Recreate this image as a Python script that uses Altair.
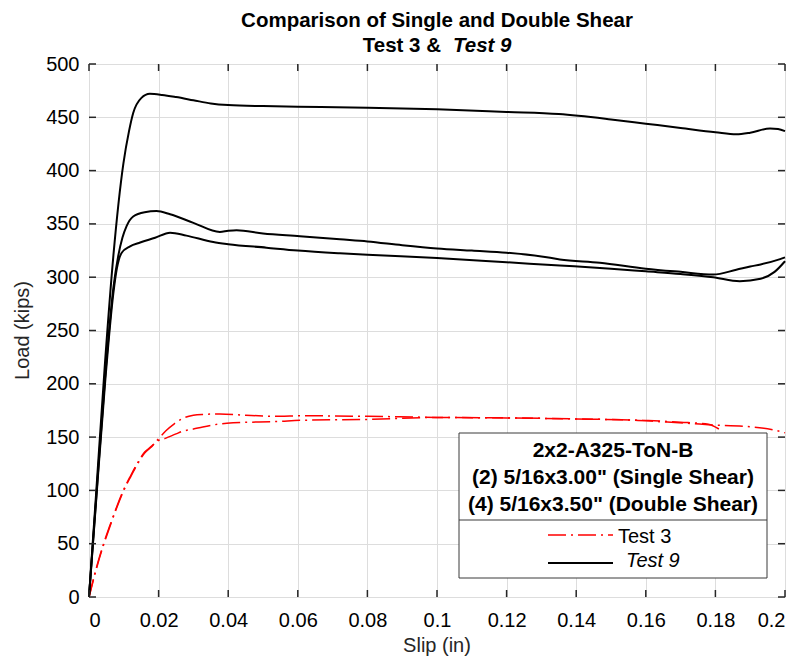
import altair as alt
import pandas as pd

# ---- data ----
# Test 9 (double shear) - three black curves
t9a_slip = [0, 0.002, 0.0046, 0.007, 0.0099, 0.0115, 0.0127, 0.015, 0.0175, 0.021, 0.025, 0.03, 0.035, 0.04,
            0.05, 0.06, 0.08, 0.1, 0.12, 0.135, 0.15, 0.16, 0.17, 0.18, 0.186, 0.19, 0.1957, 0.198, 0.2]
t9a_load = [0, 95, 220, 320, 407, 437, 454, 468, 472, 471, 469, 466, 463, 461.5,
            460.5, 460, 459, 457.5, 455, 453, 448, 444, 440, 436, 434, 435.5, 439.5, 439, 437]

t9b_slip = [0, 0.002, 0.0046, 0.007, 0.0084, 0.0096, 0.0108, 0.0127, 0.016, 0.0194, 0.0233, 0.03, 0.0376, 0.04,
            0.0424, 0.05, 0.0606, 0.0721, 0.08, 0.09, 0.1, 0.11, 0.12, 0.13, 0.1353, 0.1468, 0.16, 0.17, 0.1794,
            0.186, 0.19, 0.193, 0.1986, 0.2]
t9b_load = [0, 90, 205, 290, 320, 337, 348, 357, 361, 362, 359, 351, 342.5, 343.5,
            344, 341, 338.5, 335.5, 333.5, 330, 327, 325, 323, 319.5, 316.7, 313.6, 308, 305, 302.5,
            307, 310, 312, 317, 318.6]

t9c_slip = [0, 0.002, 0.0046, 0.007, 0.008, 0.0094, 0.0118, 0.0147, 0.019, 0.0233, 0.028, 0.0357, 0.04, 0.051,
            0.06, 0.0721, 0.08, 0.1, 0.12, 0.1353, 0.15, 0.16, 0.17, 0.1794, 0.187, 0.193, 0.197, 0.2]
t9c_load = [0, 88, 200, 285, 308, 323, 329, 332.5, 337, 341.8, 339, 333, 331, 327.7,
            325, 322.4, 321, 318, 314, 311, 308, 305.5, 303, 300, 296.3, 298.6, 305, 315]

# Test 3 (single shear) - two red dash-dot curves
t3a_slip = [0, 0.002, 0.004, 0.006, 0.008, 0.010, 0.012, 0.014, 0.016, 0.018, 0.0193, 0.0221, 0.0245, 0.0269,
            0.03, 0.0327, 0.0376, 0.045, 0.0549, 0.0606, 0.08, 0.1, 0.12, 0.14, 0.156, 0.164, 0.1736, 0.178,
            0.189, 0.1995, 0.2]
t3a_load = [0, 26, 48, 67, 85, 101, 114, 126, 136, 141.5, 146, 156, 162.5, 167.5,
            170.5, 171.3, 171.7, 170.5, 169.5, 170, 169.5, 168.5, 168, 167, 166, 164.5, 162.6, 161.6,
            160, 154.5, 154]

t3b_slip = [0, 0.002, 0.004, 0.006, 0.008, 0.010, 0.012, 0.014, 0.016, 0.018, 0.0193, 0.0221, 0.025, 0.0269,
            0.03, 0.0327, 0.0396, 0.0549, 0.0606, 0.08, 0.1, 0.12, 0.14, 0.159, 0.17, 0.178, 0.181]
t3b_load = [0, 25, 47, 66, 84, 100, 113, 125, 135, 141, 145.5, 149, 153, 155.5,
            157.5, 159.5, 163, 164.8, 165.7, 166.6, 168.4, 168, 167, 165.7, 164, 162, 157.6]

x_ticks = [0, 0.02, 0.04, 0.06, 0.08, 0.1, 0.12, 0.14, 0.16, 0.18, 0.2]
y_ticks = [0, 50, 100, 150, 200, 250, 300, 350, 400, 450, 500]

title_line1 = "Comparison of Single and Double Shear"
title_line2a = "Test 3 &"
title_line2b = "Test 9"
x_title = "Slip (in)"
y_title = "Load (kips)"
legend_title = ["2x2-A325-ToN-B", "(2) 5/16x3.00\" (Single Shear)", "(4) 5/16x3.50\" (Double Shear)"]
legend_labels = ["Test 3", "Test 9"]

# ---- build tables ----
def curve(name, xs, ys):
    return pd.DataFrame({"curve": name, "slip": xs, "load": ys, "i": range(len(xs))})

black = pd.concat([curve("9a", t9a_slip, t9a_load), curve("9b", t9b_slip, t9b_load),
                   curve("9c", t9c_slip, t9c_load)])
red = pd.concat([curve("3a", t3a_slip, t3a_load), curve("3b", t3b_slip, t3b_load)])

W, H = 696, 533
FONT = "Liberation Sans"
AX = "#262626"
DASH = [18, 5, 2, 5]

xs = alt.Scale(domain=[0, 0.2], nice=False, zero=False)
ys = alt.Scale(domain=[0, 500], nice=False)

x_axis = alt.Axis(values=x_ticks, format="~g", title=None, grid=True, tickSize=0, domain=False,
                  labelFontSize=20, labelPadding=13)
y_axis = alt.Axis(values=y_ticks, title=None, grid=True, tickSize=0, domain=False,
                  labelFontSize=20, labelPadding=10)

base_red = alt.Chart(red).mark_line(color="#ff0000", strokeWidth=1.5, strokeDash=DASH,
                                    interpolate="monotone").encode(
    x=alt.X("slip:Q", scale=xs, axis=x_axis),
    y=alt.Y("load:Q", scale=ys, axis=y_axis),
    detail="curve:N", order="i:Q")

base_black = alt.Chart(black).mark_line(color="black", strokeWidth=2, interpolate="monotone").encode(
    x=alt.X("slip:Q", scale=xs),
    y=alt.Y("load:Q", scale=ys),
    detail="curve:N", order="i:Q")

xt = pd.DataFrame({"v": x_ticks})
yt = pd.DataFrame({"v": y_ticks})
tick_style = dict(color=AX, strokeWidth=1.5)
ticks = [
    alt.Chart(xt).mark_rule(**tick_style).encode(x=alt.X("v:Q", scale=xs), y=alt.value(H), y2=alt.value(H - 7)),
    alt.Chart(xt).mark_rule(**tick_style).encode(x=alt.X("v:Q", scale=xs), y=alt.value(0), y2=alt.value(7)),
    alt.Chart(yt).mark_rule(**tick_style).encode(y=alt.Y("v:Q", scale=ys), x=alt.value(0), x2=alt.value(7)),
    alt.Chart(yt).mark_rule(**tick_style).encode(y=alt.Y("v:Q", scale=ys), x=alt.value(W), x2=alt.value(W - 7)),
]

one = pd.DataFrame({"a": [0]})

# legend box (drawn by hand, MATLAB style)
lx0, lx1, ly0, ly1, ldiv = 370, 678, 369, 514, 456
leg_box = alt.Chart(one).mark_rect(fill="white", stroke="#3a3a3a", strokeWidth=1).encode(
    x=alt.value(lx0), x2=alt.value(lx1), y=alt.value(ly0), y2=alt.value(ly1))
leg_div = alt.Chart(one).mark_rule(color="#3a3a3a", strokeWidth=1).encode(
    x=alt.value(lx0), x2=alt.value(lx1), y=alt.value(ldiv))
leg_red = alt.Chart(one).mark_rule(color="#ff0000", strokeWidth=1.5, strokeDash=DASH).encode(
    x=alt.value(459), x2=alt.value(524), y=alt.value(471))
leg_black = alt.Chart(one).mark_rule(color="black", strokeWidth=2).encode(
    x=alt.value(459), x2=alt.value(524), y=alt.value(499))

def text(s, x, y, size=19, weight="normal", style="normal", align="left", color="black", angle=0):
    return alt.Chart(one).mark_text(text=s, font=FONT, fontSize=size, fontWeight=weight, fontStyle=style,
                                    align=align, baseline="alphabetic", color=color, angle=angle).encode(
        x=alt.value(x), y=alt.value(y))

texts = [
    text(legend_title[0], 524, 393, 21, "bold", align="center"),
    text(legend_title[1], 524, 420, 21, "bold", align="center"),
    text(legend_title[2], 524, 447, 21, "bold", align="center"),
    text(legend_labels[0], 529, 479, 20),
    text(legend_labels[1], 537, 503, 20, style="italic"),
    text(title_line1, W / 2, -37, 20.5, "bold", align="center"),
    text(title_line2a, 352, -12, 20.5, "bold", align="right"),
    text(title_line2b, 364, -12, 20.5, "bold", style="italic"),
    text(x_title, W / 2, H + 55, 20, color=AX, align="center"),
    text(y_title, -60, H / 2, 20, color=AX, align="center", angle=270),
]

chart = alt.layer(base_red, base_black, *ticks, leg_box, leg_div, leg_red, leg_black, *texts).properties(
    width=W, height=H,
    autosize=alt.AutoSizeParams(type="none"),
    padding={"left": 81, "top": 56, "right": 8, "bottom": 60},
).configure_view(stroke=AX, strokeWidth=2).configure_axis(
    gridColor="#e0e0e0", gridWidth=1, labelColor=AX, labelFont=FONT
).configure(background="white")

chart.save("out.html", embed_options={"renderer": "svg", "actions": False})
